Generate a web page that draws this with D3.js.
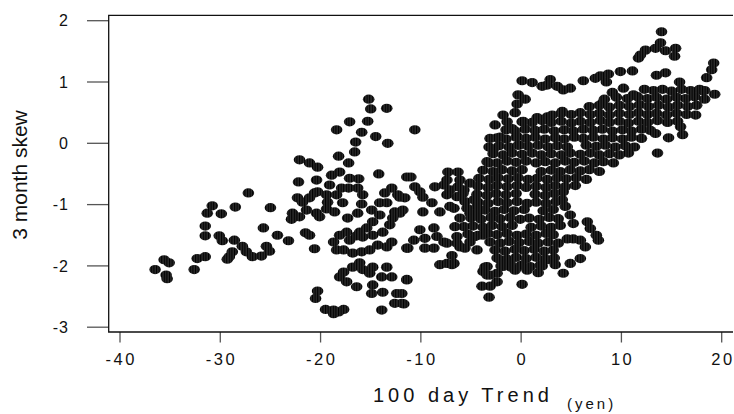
<!DOCTYPE html>
<html>
<head>
<meta charset="utf-8">
<script src="https://cdn.jsdelivr.net/npm/d3@7"></script>
<style>
  body { margin: 0; background: #fff; }
  svg { display: block; font-family: "Liberation Sans", Arial, sans-serif; }
</style>
</head>
<body>
<svg width="734" height="414"></svg>
<script>
// tick labels
const xTicks = [-40, -30, -20, -10, 0, 10, 20]
const yTicks = [2, 1, 0, -1, -2, -3]

// [100 day trend (yen), 3 month skew]
// far left and left middle groups (trend below -10)
const leftCluster = [
  [-36.5,-2.06],[-35.6,-1.90],[-35.1,-1.95],[-35.4,-2.15],[-35.3,-2.21],[-32.6,-2.06],[-32.3,-1.88],[-31.5,-1.85],
  [-27.2,-0.81],[-30.8,-1.02],[-31.3,-1.14],[-29.9,-1.15],[-28.5,-1.04],[-25.0,-1.05],[-31.5,-1.35],[-31.5,-1.51],
  [-30.1,-1.51],[-29.8,-1.59],[-28.6,-1.58],[-27.8,-1.68],[-28.8,-1.77],[-29.1,-1.85],[-29.3,-1.89],[-27.4,-1.77],
  [-26.8,-1.85],[-25.9,-1.84],[-25.4,-1.68],[-25.1,-1.76],[-25.7,-1.38],[-24.3,-1.50],[-23.2,-1.59],[-21.5,-1.46],
  [-21.1,-1.50],[-20.6,-1.72],
  [-22.2,-0.63],[-20.4,-0.60],[-19.1,-0.68],[-18.9,-0.52],[-18.1,-0.47],[-17.1,-0.57],[-16.2,-0.58],[-14.2,-0.50],
  [-11.4,-0.55],[-22.3,-0.89],[-21.8,-0.96],[-21.1,-0.89],[-20.6,-0.81],[-20.3,-0.79],[-19.4,-0.84],[-19.3,-0.96],
  [-18.4,-0.84],[-17.9,-0.73],[-17.2,-0.73],[-16.3,-0.73],[-15.8,-0.84],[-17.8,-0.97],[-15.9,-0.99],[-18.6,-1.12],
  [-19.4,-1.07],[-20.4,-1.14],[-21.4,-1.09],[-22.8,-1.14],[-22.9,-1.24],[-22.1,-1.20],[-20.1,-1.20],[-17.3,-1.22],
  [-16.3,-1.14],[-14.9,-1.09],[-14.1,-0.97],[-13.4,-0.97],[-13.6,-0.81],[-12.9,-0.73],[-12.3,-0.84],[-11.6,-0.89],
  [-12.6,-1.12],[-12.1,-1.14],[-14.1,-1.17],[-14.8,-1.28],[-15.4,-1.38],[-16.1,-1.45],[-17.4,-1.45],[-18.1,-1.50],
  [-17.1,-1.58],[-16.4,-1.51],[-15.8,-1.53],[-14.8,-1.50],[-13.8,-1.45],[-13.1,-1.33],[-12.8,-1.22],
  [-18.7,-1.61],[-18.4,-1.74],[-17.7,-1.74],[-16.8,-1.79],[-15.9,-1.77],[-15.1,-1.74],[-14.3,-1.66],[-13.4,-1.69],
  [-12.9,-1.61],[-11.3,-1.71],
  [-17.7,-2.10],[-18.1,-2.18],[-17.4,-2.26],[-16.8,-2.02],[-16.1,-1.95],[-15.8,-2.06],[-15.1,-2.12],[-14.8,-2.02],
  [-13.9,-2.18],[-13.4,-2.02],[-12.9,-2.18],[-16.4,-2.34],[-14.8,-2.31],[-14.9,-2.45],[-13.8,-2.43],[-12.4,-2.45],
  [-12.6,-2.61],[-11.9,-2.61],[-13.9,-2.72],[-20.3,-2.41],[-20.5,-2.53],[-19.5,-2.71],[-18.7,-2.72],[-18.7,-2.78],
  [-17.7,-2.71],[-18.2,-2.75],[-11.4,-2.23],
  [-15.2,0.72],[-15.0,0.56],[-13.4,0.57],[-17.1,0.35],[-15.3,0.36],[-18.4,0.22],[-15.9,0.18],[-14.5,0.11],
  [-13.3,0.00],[-16.5,0.02],[-16.6,-0.14],[-18.2,-0.21],[-17.2,-0.32],[-22.1,-0.27],[-21.1,-0.32],[-20.3,-0.39]
]

// trend between -12 and -2
const midCluster = [
  [-10.6,0.22],[-11.0,-0.55],[-12.1,-0.88],[-11.8,-1.09],[-7.3,-0.47],[-6.3,-0.47],[-10.6,-0.71],[-10.1,-0.79],
  [-9.8,-0.88],[-8.9,-0.97],[-9.8,-1.12],[-8.1,-1.12],[-8.6,-0.71],[-7.7,-0.68],[-7.1,-0.76],[-6.3,-0.71],
  [-5.8,-0.82],[-5.6,-0.95],[-6.7,-1.06],[-6.1,-1.22],[-6.6,-1.36],[-5.1,-1.14],[-4.4,-1.03],[-10.1,-1.41],
  [-8.7,-1.38],[-10.7,-1.58],[-9.6,-1.55],[-8.4,-1.52],[-7.7,-1.61],[-11.4,-1.71],[-9.6,-1.71],[-8.7,-1.71],
  [-6.4,-1.63],[-5.6,-1.71],[-5.1,-1.61],[-4.6,-1.52],[-3.8,-1.50],[-6.9,-1.83],[-8.1,-1.98],[-6.9,-1.98],
  [-11.4,-2.22],[-11.9,-2.45],[-11.7,-2.62],[-3.6,-2.02],[-3.4,-2.15],[-3.9,-2.33],[-3.1,-2.33],[-2.4,-2.26],
  [-3.2,-2.51],
  [-7.4,-0.60],[-6.1,-0.60],[-5.7,-0.76],[-5.1,-0.65],[-7.4,-0.84],[-6.4,-0.87],[-4.7,-0.92],[-7.1,-1.03],
  [-5.4,-1.06],[-4.4,-1.14],[-5.7,-1.36],[-6.4,-1.52],[-4.7,-1.52],[-7.4,-1.63],[-6.1,-1.69],[-4.4,-1.74],
  [-7.4,-1.96],[-6.7,-1.96],[-3.4,-2.01],[-3.1,-2.15],[-3.8,-2.09],[-2.8,-0.11]
]

// loose points round the lower blob
const lowerEdge = [
  [0.1,-2.30],[4.2,-2.12],[-1.8,-2.01],[-1.1,-1.96],[1.7,-2.11],[2.1,-2.00],[3.4,-1.98],[4.9,-1.96],
  [5.9,-1.88],[6.4,-1.69],[7.7,-1.58],[7.5,-1.50],[6.9,-1.39],[6.6,-1.28],[5.2,-1.31],[4.9,-1.17],
  [4.4,-1.03],[4.1,-0.92],[4.2,-0.79],[4.6,-1.56],[5.2,-1.56],[5.9,-1.58],[2.6,-1.90],[0.6,-2.07],
  [-0.6,-2.07],[-2.1,-1.90],[-2.4,-2.12]
]

// dense lower blob, trend -5..8, skew below -0.6
const lowerBlob = [
  [-4.3,-0.70],[-3.3,-0.72],[-2.4,-0.69],[-1.4,-0.71],[-0.4,-0.69],[0.5,-0.72],[1.5,-0.70],[2.5,-0.72],[3.4,-0.69],[4.4,-0.71],[5.4,-0.69],
  [-4.4,-0.83],[-3.4,-0.85],[-2.5,-0.82],[-1.5,-0.84],[-0.5,-0.82],[1.4,-0.83],[2.4,-0.85],[3.3,-0.82],
  [-4.3,-0.96],[-3.3,-0.98],[-2.3,-0.95],[-1.4,-0.97],[-0.4,-0.95],[0.6,-0.98],[1.5,-0.96],[2.5,-0.98],[3.5,-0.95],
  [-3.6,-1.09],[-2.6,-1.11],[-1.7,-1.08],[-0.7,-1.10],[0.3,-1.08],[2.2,-1.10],[3.2,-1.08],
  [-5.0,-1.22],[-4.0,-1.24],[-3.0,-1.21],[-2.1,-1.23],[-1.1,-1.21],[-0.1,-1.24],[0.8,-1.22],[1.8,-1.24],[2.8,-1.21],[3.7,-1.23],
  [-4.8,-1.35],[-3.8,-1.37],[-2.9,-1.34],[-1.9,-1.36],[-0.9,-1.34],[1.0,-1.37],[2.0,-1.35],[3.0,-1.37],[3.9,-1.34],
  [-5.3,-1.48],[-4.3,-1.50],[-3.3,-1.47],[-2.4,-1.49],[-1.4,-1.47],[-0.4,-1.50],[0.5,-1.48],[1.5,-1.50],[2.5,-1.47],[3.2,-1.49],
  [-3.1,-1.61],[-2.1,-1.63],[-1.2,-1.60],[-0.2,-1.62],[0.8,-1.60],[1.7,-1.63],[2.7,-1.61],[3.7,-1.63],
  [-2.6,-1.74],[-1.6,-1.76],[-0.6,-1.73],[0.3,-1.75],[1.3,-1.73],[2.3,-1.76],[3.2,-1.74],
  [-2.4,-1.87],[-1.4,-1.89],[-0.5,-1.86],[0.5,-1.88],[1.5,-1.86],[2.4,-1.89],[3.3,-1.87],
  [-2.0,-2.00],[-1.0,-2.02],[0.0,-1.99],[0.9,-2.01],[1.9,-1.99]
]

// dense rising band, skew -0.6..0.9
const mainBand = [
  [12.3,0.88],[13.2,0.86],[14.1,0.88],[15.0,0.85],[16.0,0.88],[16.9,0.86],[17.8,0.88],
  [8.3,0.72],[9.5,0.75],[10.6,0.73],[11.6,0.76],[12.6,0.73],[13.5,0.75],[14.5,0.72],[15.5,0.75],[16.4,0.73],[17.3,0.76],[18.3,0.72],
  [6.8,0.60],[7.8,0.62],[8.8,0.59],[9.8,0.62],[10.8,0.60],[11.8,0.63],[12.7,0.60],[13.7,0.62],[14.7,0.59],[15.6,0.62],[16.6,0.60],[17.5,0.62],
  [3.1,0.46],[4.0,0.49],[5.0,0.47],[5.9,0.50],[6.9,0.47],[7.8,0.49],[8.8,0.46],[9.8,0.49],[10.8,0.47],[11.7,0.50],[12.6,0.47],[13.5,0.49],[14.5,0.46],[15.5,0.49],[16.5,0.47],
  [0.2,0.36],[1.1,0.34],[2.1,0.37],[3.0,0.34],[4.0,0.36],[5.0,0.33],[5.9,0.36],[6.9,0.34],[7.9,0.37],[8.8,0.34],[9.8,0.36],[10.7,0.33],[11.7,0.36],[12.6,0.34],[13.6,0.37],[14.6,0.34],[15.6,0.36],
  [-1.5,0.22],[-0.6,0.20],[0.4,0.23],[1.4,0.21],[2.3,0.23],[3.3,0.20],[4.3,0.22],[5.2,0.20],[6.2,0.23],[7.2,0.21],[8.1,0.23],[9.1,0.20],[10.1,0.22],[11.0,0.20],[12.0,0.23],[12.9,0.21],
  [-2.4,0.09],[-1.5,0.07],[-0.5,0.10],[0.5,0.08],[1.4,0.10],[2.4,0.07],[3.4,0.09],[4.3,0.07],[5.3,0.10],[6.2,0.08],[7.2,0.10],[8.2,0.07],[9.1,0.09],[10.1,0.07],[11.0,0.10],[12.0,0.08],
  [-2.2,-0.04],[-1.2,-0.06],[-0.2,-0.03],[0.7,-0.05],[1.7,-0.03],[2.7,-0.06],[3.6,-0.04],[4.6,-0.06],[6.5,-0.03],[7.5,-0.05],[8.4,-0.03],[9.4,-0.06],[10.4,-0.04],[11.3,-0.06],
  [-2.8,-0.17],[-1.8,-0.19],[-0.9,-0.16],[0.1,-0.18],[1.1,-0.16],[2.0,-0.19],[3.0,-0.17],[4.0,-0.19],[4.9,-0.16],[5.9,-0.18],[6.9,-0.16],[7.8,-0.19],[8.8,-0.17],[9.8,-0.19],[10.7,-0.16],
  [-3.4,-0.30],[-2.4,-0.32],[-1.4,-0.29],[-0.5,-0.31],[0.5,-0.29],[1.5,-0.32],[2.4,-0.30],[3.4,-0.32],[4.4,-0.29],[5.3,-0.31],[6.3,-0.29],[7.3,-0.32],[8.2,-0.30],[9.2,-0.32],
  [-3.8,-0.44],[-2.8,-0.46],[-1.9,-0.43],[-0.9,-0.45],[0.1,-0.43],[2.0,-0.46],[3.0,-0.44],[3.9,-0.46],[4.9,-0.43],[5.9,-0.45],[6.8,-0.43],[7.8,-0.46],
  [-4.2,-0.57],[-3.2,-0.59],[-2.3,-0.56],[-1.3,-0.58],[-0.3,-0.56],[0.7,-0.59],[1.6,-0.57],[2.6,-0.59],[3.6,-0.56],[4.5,-0.58],[5.5,-0.56],[6.5,-0.59]
]

// loose points above and to the right of the band
const upperEdge = [
  [14.0,1.82],[13.9,1.64],[13.4,1.55],[14.4,1.51],[15.4,1.55],[15.3,1.42],[12.4,1.52],[11.9,1.44],[11.7,1.39],
  [19.2,1.31],[19.0,1.20],[18.5,1.07],[19.3,0.80],[18.0,0.86],[13.5,1.11],[14.4,1.15],[15.8,1.00],[9.9,1.17],
  [11.1,1.18],[8.7,1.13],[7.9,1.10],[7.4,1.06],[8.5,1.00],[6.2,1.02],[4.9,0.90],[4.2,0.87],[3.6,0.93],[2.9,1.04],
  [2.6,0.95],[2.1,0.93],[1.1,0.99],[0.1,1.02],[4.1,0.52],[-0.3,0.79],[0.4,0.72],[-0.4,0.64],[-0.6,0.50],[-1.8,0.46],
  [-2.6,0.30],[-1.4,0.35],[-0.9,0.24],[0.1,0.35],[-3.1,0.08],[-2.1,0.10],[-3.2,-0.06],[-0.4,0.11],[-0.3,-0.03],
  [-3.2,-0.32],[1.6,0.42],[2.6,0.43],[8.1,0.65],[9.1,0.83],[10.2,0.90],[11.2,0.79],[13.4,0.16],[14.7,0.09],
  [13.6,-0.16],[17.4,0.46],[15.9,0.27],[16.1,0.14],[18.3,0.86]
]

const points = [].concat(leftCluster, midCluster, lowerEdge, lowerBlob, mainBand, upperEdge)

let svg = d3.select('svg')

// plot frame in pixels
let frame = { left: 108.7, right: 733, top: 15.3, bottom: 332 }

let x = d3.scaleLinear().domain([-40, 20]).range([120, 721.7])
let y = d3.scaleLinear().domain([-3, 2]).range([327.2, 20.7])

// striped marker fill
let pat = svg.append('defs').append('pattern')
  .attr('id', 'stripe')
  .attr('patternUnits', 'userSpaceOnUse')
  .attr('width', 2.6)
  .attr('height', 6)
pat.append('rect').attr('width', 2.6).attr('height', 6).attr('fill', '#2a2a2a')
pat.append('rect').attr('width', 1.1).attr('height', 6).attr('fill', '#000')

// y ticks
svg.append('g')
  .selectAll('line')
  .data(yTicks)
  .enter()
  .append('line')
  .attr('x1', 87)
  .attr('x2', frame.left)
  .attr('y1', d => y(d))
  .attr('y2', d => y(d))
  .attr('stroke', '#555')
  .attr('stroke-width', 1.3)

svg.append('g')
  .selectAll('text')
  .data(yTicks)
  .enter()
  .append('text')
  .attr('x', 69)
  .attr('y', d => y(d))
  .attr('dy', '0.36em')
  .attr('text-anchor', 'end')
  .attr('font-size', 16)
  .attr('letter-spacing', 1)
  .attr('fill', '#111')
  .text(d => d)

// x ticks
svg.append('g')
  .selectAll('line')
  .data(xTicks)
  .enter()
  .append('line')
  .attr('x1', d => x(d))
  .attr('x2', d => x(d))
  .attr('y1', frame.bottom)
  .attr('y2', frame.bottom + 10.5)
  .attr('stroke', '#555')
  .attr('stroke-width', 1.3)

svg.append('g')
  .selectAll('text')
  .data(xTicks)
  .enter()
  .append('text')
  .attr('x', d => x(d) + 1.2)
  .attr('y', 365)
  .attr('text-anchor', 'middle')
  .attr('font-size', 16.5)
  .attr('letter-spacing', 2.5)
  .attr('fill', '#111')
  .text(d => d)

// points
svg.append('g')
  .selectAll('ellipse')
  .data(points)
  .enter()
  .append('ellipse')
  .attr('cx', d => x(d[0]))
  .attr('cy', d => y(d[1]))
  .attr('rx', 5.8)
  .attr('ry', 4.6)
  .attr('fill', 'url(#stripe)')

// frame: left and bottom axis lines plus top line
svg.append('path')
  .attr('d', 'M' + frame.right + ',' + frame.top + 'H' + frame.left + 'V' + frame.bottom + 'H' + frame.right)
  .attr('fill', 'none')
  .attr('stroke', '#111')
  .attr('stroke-width', 1.3)

// axis titles
let xt = svg.append('text')
  .attr('x', 373)
  .attr('y', 401.5)
  .attr('font-size', 20)
  .attr('letter-spacing', 4)
  .attr('fill', '#111')
xt.append('tspan').text('100 day Trend')
xt.append('tspan')
  .attr('x', 567)
  .attr('y', 409)
  .attr('font-size', 15)
  .attr('letter-spacing', 3)
  .text('(yen)')

svg.append('text')
  .attr('transform', 'translate(27,175) rotate(-90)')
  .attr('text-anchor', 'middle')
  .attr('font-size', 21)
  .attr('fill', '#111')
  .text('3 month skew')
</script>
</body>
</html>
